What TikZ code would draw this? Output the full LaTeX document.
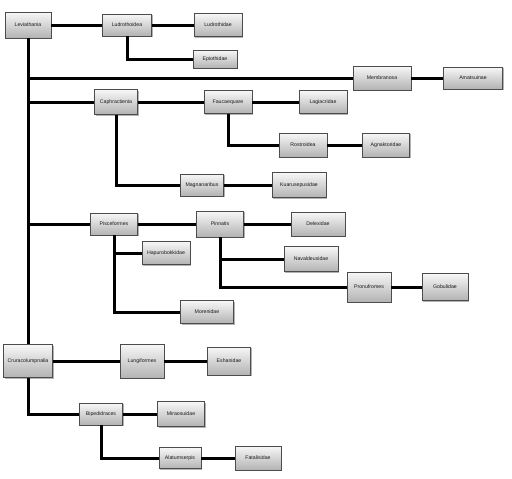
\documentclass[tikz,border=0pt]{standalone}
\usepackage{fontspec}
\setmainfont{Liberation Sans}
\usetikzlibrary{shadows}
\usetikzlibrary{positioning}

\tikzset{
  taxon/.style={draw=black!70, line width=0.7pt, top color=black!3, bottom color=black!30,
    drop shadow={shadow xshift=1.3pt, shadow yshift=-1.3pt, fill=black!50, opacity=0.6},
    inner sep=1pt, font=\fontsize{5.2}{6}\selectfont, text=black!90},
  branch/.style={line width=3pt, black}
}

\begin{document}
\begin{tikzpicture}[x=1pt,y=-1pt]
\useasboundingbox (0,0) rectangle (512,479);

% taxa: name/x/y/width/height/label
\foreach \n/\x/\y/\w/\h/\t in {
  lev/28/25/46/26/Leviathania,
  lud/127/25/49/22/Ludrothoidea,
  ludr/218/25/48/23/Ludrothidae,
  epi/215/59/44/18/Epiothidae,
  mem/382/78/58/24/Membranosa,
  ama/473/78/59/22/Amatsuinae,
  caph/116/102/43/25/Caphractienia,
  fauc/228/102/48/23/Faucaequare,
  lag/323/102/48/23/Lagiacridae,
  rost/303/145/48/24/Rostroidea,
  agn/386/145/47/24/Agnaktoridae,
  mag/202/185/43/22/Magnanaribus,
  kua/299/185/54/25/Kuarusepusidae,
  pisc/114/224/47/22/Pisceformes,
  pinn/220/224/47/26/Pinnatis,
  dele/318/224/54/24/Delexidae,
  hap/166/253/48/23/Hapurobokkidae,
  nav/311/259/54/25/Navaldeusidae,
  pron/369/287/44/30/Pronufromes,
  gob/445/287/46/27/Gobulidae,
  more/207/312/53/23/Morenidae,
  crur/28/361/49/33/Cruracolumpnalia,
  lung/142/361/44/34/Lungiformes,
  esh/229/361/43/28/Eshanidae,
  bip/101/414/43/22/Bipedidraces,
  mir/181/414/47/25/Miraosuidae,
  ala/180/458/42/21/Alatumserpis,
  fat/258/458/46/24/Fatalisidae}
{
\node[taxon, minimum width=\w pt, minimum height=\h pt] (\n) at (\x,\y) {\t};
}

% branches
\draw[branch] (lev) -- (lud);
\draw[branch] (lud) -- (ludr);
\draw[branch] (lud) |- (epi);
\draw[branch] (lev) |- (mem);
\draw[branch] (mem) -- (ama);
\draw[branch] (lev) |- (caph);
\draw[branch] (caph) -- (fauc);
\draw[branch] (fauc) -- (lag);
\draw[branch] (fauc) |- (rost);
\draw[branch] (rost) -- (agn);
\draw[branch] (caph) |- (mag);
\draw[branch] (mag) -- (kua);
\draw[branch] (lev) |- (pisc);
\draw[branch] (pisc) -- (pinn);
\draw[branch] (pinn) -- (dele);
\draw[branch] (pisc) |- (hap);
\draw[branch] (pisc) |- (more);
\draw[branch] (pinn) |- (nav);
\draw[branch] (pinn) |- (pron);
\draw[branch] (pron) -- (gob);
\draw[branch] (lev) -- (crur);
\draw[branch] (crur) -- (lung);
\draw[branch] (lung) -- (esh);
\draw[branch] (crur) |- (bip);
\draw[branch] (bip) -- (mir);
\draw[branch] (bip) |- (ala);
\draw[branch] (ala) -- (fat);

\end{tikzpicture}
\end{document}
